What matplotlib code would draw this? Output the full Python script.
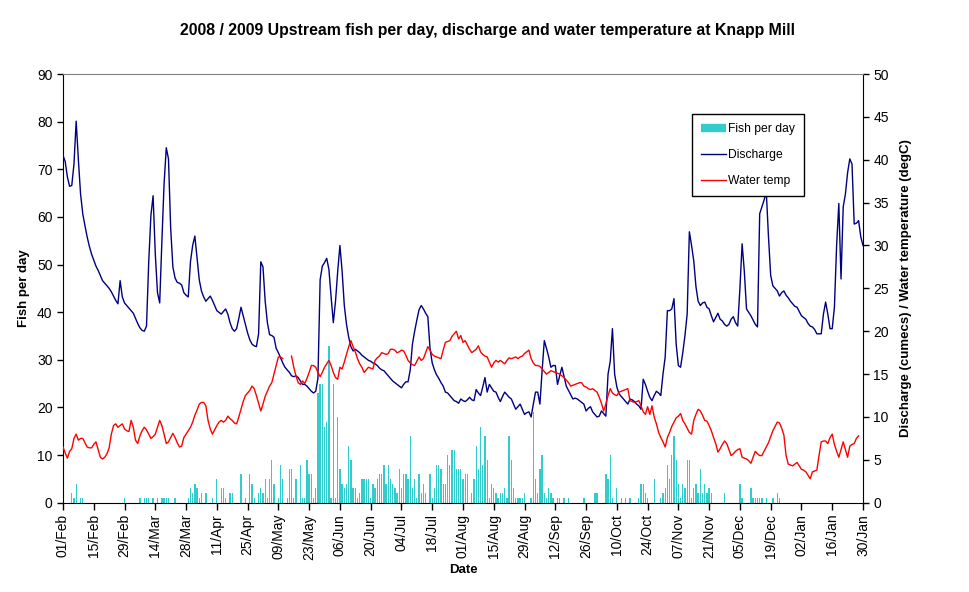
import numpy as np
import matplotlib
matplotlib.use("Agg")
import matplotlib.pyplot as plt
from matplotlib.lines import Line2D

plt.rcParams['font.family'] = ['Liberation Sans', 'DejaVu Sans']

# Daily discharge (cumecs), 01/Feb/2008 .. 30/Jan/2009
discharge = [
    40.5, 39.8, 38.0, 36.9, 37.0, 39.5, 44.5, 40.0, 36.0, 33.7,
    32.3, 31.0, 29.9, 29.0, 28.3, 27.6, 27.1, 26.5, 25.9, 25.6,
    25.3, 25.0, 24.6, 24.1, 23.6, 23.2, 25.9, 24.0, 23.3, 23.0,
    22.7, 22.4, 22.1, 21.5, 20.9, 20.4, 20.1, 20.0, 20.6, 28.0,
    33.5, 35.8, 29.0, 24.5, 23.3, 30.5, 37.2, 41.4, 40.1, 32.0,
    27.5, 26.2, 25.7, 25.6, 25.4, 24.5, 24.2, 24.0, 28.1, 30.0,
    31.1, 28.5, 26.0, 24.7, 24.0, 23.5, 23.8, 24.1, 23.6, 23.0,
    22.4, 22.2, 22.0, 22.3, 22.6, 22.0, 21.0, 20.3, 20.0, 20.3,
    21.5, 22.8, 21.8, 20.8, 19.8, 19.0, 18.5, 18.3, 18.2, 19.7,
    28.1, 27.5, 23.5, 21.0, 19.6, 19.5, 19.3, 18.0, 17.5, 16.9,
    16.3, 15.8, 15.5, 15.2, 14.8, 14.7, 14.8, 14.6, 14.2, 13.8,
    13.8, 13.6, 13.3, 13.0, 12.8, 13.0, 14.5, 26.0, 27.6, 28.0,
    28.5, 27.2, 24.0, 21.0, 23.5, 27.0, 30.0, 27.0, 23.0, 20.8,
    19.3, 18.2, 17.7, 17.9, 17.7, 17.5, 17.2, 17.0, 16.8, 16.6,
    16.5, 16.3, 16.2, 16.0, 15.7, 15.5, 15.4, 15.1, 14.8, 14.5,
    14.2, 14.0, 13.8, 13.6, 13.4, 13.8, 14.1, 14.1, 15.5, 18.5,
    20.0, 21.3, 22.5, 23.0, 22.6, 22.1, 21.7, 18.0, 16.3, 15.5,
    14.9, 14.5, 14.0, 13.6, 12.9, 12.8, 12.5, 12.2, 11.9, 11.8,
    11.6, 12.1, 11.9, 11.8, 12.0, 12.3, 12.0, 11.9, 13.2, 12.8,
    12.5, 13.5, 14.6, 12.9, 13.8, 13.4, 13.0, 12.9, 12.3, 11.8,
    12.4, 12.9, 12.6, 12.3, 12.1, 11.5, 10.9, 11.2, 11.5, 10.9,
    10.3, 10.5, 10.6, 10.0, 11.5, 12.9, 12.9, 11.5, 15.4, 18.9,
    18.0, 17.0, 15.8, 16.0, 16.0, 13.8, 14.8, 15.8, 14.7, 13.6,
    13.1, 12.6, 12.1, 12.2, 12.1, 11.9, 11.7, 11.5, 10.7, 11.0,
    11.2, 10.6, 10.3, 10.0, 10.1, 10.7, 10.4, 10.1, 15.0, 16.5,
    20.3, 15.0, 13.5, 12.7, 12.4, 12.1, 11.8, 11.5, 12.1, 12.0,
    11.8, 11.5, 11.3, 10.9, 14.4, 13.8, 13.0, 12.3, 11.9, 12.5,
    13.0, 12.8, 12.5, 15.0, 17.0, 22.4, 22.4, 22.6, 23.8, 18.5,
    16.0, 15.8, 17.5, 19.5, 22.0, 31.6, 30.0, 28.2, 25.2, 23.5,
    23.0, 23.3, 23.4, 22.8, 22.6, 21.8, 21.1, 21.6, 22.1, 21.4,
    21.2, 20.8, 20.6, 20.8, 21.4, 21.7, 21.0, 20.6, 25.0, 30.2,
    27.0, 22.6, 22.2, 21.8, 21.3, 20.8, 20.5, 33.7, 34.5, 35.3,
    36.3, 31.0, 26.5, 25.3, 25.0, 24.7, 24.1, 24.5, 24.7, 24.2,
    23.9, 23.5, 23.2, 22.9, 22.8, 22.3, 21.8, 21.6, 21.4, 20.9,
    20.6, 20.5, 20.2, 19.7, 19.7, 19.7, 22.0, 23.4, 22.0, 20.3,
    20.3, 22.8, 30.0, 34.9, 26.1, 34.5, 36.0, 38.5, 40.1, 39.5,
    32.5, 32.6, 32.9, 31.0, 30.0,
]

nan = float('nan')
# Daily water temperature (degC); gaps where no reading
water_temp = [
    6.5, 5.8, 5.2, 6.0, 6.3, 7.5, 8.0, 7.3, 7.5, 7.5,
    7.0, 6.5, 6.4, 6.4, 6.8, 7.1, 6.2, 5.3, 5.1, 5.3,
    5.7, 6.4, 8.0, 9.0, 9.2, 8.8, 9.0, 9.2, 8.6, 8.4,
    8.3, 9.6, 8.8, 7.3, 6.9, 7.8, 8.4, 8.8, 8.5, 8.0,
    7.5, 7.7, 8.0, 8.8, 9.6, 9.0, 8.0, 6.9, 7.1, 7.6,
    8.1, 7.6, 7.0, 6.5, 6.6, 7.6, 8.0, 8.4, 8.8, 9.4,
    10.2, 10.8, 11.5, 11.7, 11.7, 11.3, 9.6, 8.6, 8.0, 8.5,
    9.0, 9.4, 9.6, 9.4, 9.6, 10.1, 9.8, 9.6, 9.3, 9.2,
    10.0, 10.9, 11.8, 12.5, 12.8, 13.1, 13.6, 13.3, 12.5, 11.6,
    10.7, 11.5, 12.4, 13.0, 13.6, 14.0, 15.0, 16.0, 17.0, 17.0,
    16.8, nan, nan, nan, 17.1, 15.8, 14.8, 14.0, 13.8, 14.2,
    13.9, 14.5, 15.2, 16.0, 16.0, 15.8, 15.2, 14.7, 15.2, 15.8,
    16.2, 16.6, 16.0, 15.2, 14.6, 14.4, 15.8, 15.6, 16.4, 17.3,
    18.2, 18.9, 18.2, 17.6, 16.8, 16.2, 15.8, 15.2, 15.5, 15.8,
    15.7, 15.6, 16.6, 16.9, 17.1, 17.5, 17.4, 17.3, 17.4, 17.9,
    17.9, 17.8, 17.5, 17.6, 17.8, 17.7, 17.2, 16.6, 16.3, 16.1,
    16.0, 16.5, 17.0, 16.6, 16.8, 17.5, 18.2, 17.8, 17.3, 17.1,
    17.0, 16.9, 16.8, 17.8, 18.7, 18.8, 18.9, 19.4, 19.7, 20.0,
    19.1, 19.5, 18.7, 18.9, 18.4, 17.9, 17.5, 17.7, 17.9, 18.3,
    17.6, 17.3, 17.1, 17.0, 16.4, 15.8, 16.3, 16.6, 16.4, 16.6,
    16.4, 16.2, 16.6, 16.9, 16.8, 16.9, 17.0, 16.8, 17.0, 17.1,
    17.4, 17.6, 17.8, 16.8, 16.3, 16.0, 16.0, 15.9, 15.6, 15.3,
    15.0, 15.2, 15.4, 15.3, 15.2, 15.1, 15.0, 14.8, 14.6, 14.3,
    14.0, 13.6, 13.7, 13.8, 13.9, 14.0, 14.0, 13.6, 13.5, 13.3,
    13.2, 13.3, 13.1, 12.9, 12.3, 11.6, 10.7, 11.5, 12.5, 13.3,
    12.8, 12.6, 12.5, 12.9, 13.0, 13.1, 13.2, 13.3, 11.9, 11.8,
    11.7, 11.8, 11.9, 11.3, 10.6, 10.3, 11.2, 10.3, 11.3, 10.0,
    9.2, 8.2, 7.6, 7.1, 6.5, 7.6, 8.2, 8.9, 9.4, 9.9,
    10.1, 10.4, 9.6, 9.2, 8.7, 8.2, 8.0, 9.6, 10.3, 10.9,
    10.7, 10.2, 9.6, 9.5, 9.0, 8.4, 7.6, 6.9, 5.9, 6.3,
    6.8, 7.2, 6.9, 6.2, 5.5, 5.7, 6.0, 6.2, 6.3, 5.3,
    5.2, 5.1, 4.9, 4.6, 5.3, 6.0, 5.7, 5.5, 5.5, 6.0,
    6.5, 7.0, 7.7, 8.4, 8.9, 9.4, 9.3, 8.7, 7.9, 5.5,
    4.5, 4.4, 4.3, 4.5, 4.7, 4.3, 3.9, 3.8, 3.6, 3.2,
    2.8, 3.6, 3.7, 3.8, 5.5, 7.1, 7.2, 7.2, 6.9, 7.6,
    8.0, 6.8, 6.0, 5.3, 6.2, 7.1, 6.2, 5.3, 6.6, 6.8,
    6.9, 7.5, 7.8, nan, nan,
]

# Fish counted per day (days since 01/Feb with at least one fish)
fish_days = [
    4, 5, 6, 8, 9, 28, 35, 37, 38, 39, 41, 43, 45, 46, 47, 48, 51,
    57, 58, 59, 60, 61, 62, 63, 65, 68, 70, 72, 73, 74, 76, 77, 81, 83,
    85, 86, 87, 89, 90, 91, 92, 93, 94, 95, 96, 98, 99, 100, 102, 103,
    104, 105, 106, 108, 109, 110, 111, 112, 113, 114, 115, 116, 117, 118,
    119, 120, 121, 122, 123, 124, 125, 126, 127, 128, 129, 130, 131, 132,
    133, 134, 135, 136, 137, 138, 139, 140, 141, 142, 143, 144, 145, 146,
    147, 148, 149, 150, 151, 152, 153, 154, 155, 156, 157, 158, 159, 160,
    161, 162, 163, 164, 165, 167, 168, 169, 170, 171, 172, 173, 174, 175,
    176, 177, 178, 179, 180, 181, 182, 183, 184, 186, 187, 188, 189, 190,
    191, 192, 193, 194, 195, 196, 197, 198, 199, 200, 201, 202, 203, 204,
    205, 206, 207, 208, 209, 210, 213, 214, 215, 216, 217, 218, 219, 220,
    221, 222, 223, 225, 226, 228, 230, 237, 242, 243, 247, 248, 249, 250,
    252, 254, 256, 258, 262, 263, 264, 265, 266, 269, 272, 273, 274, 275,
    276, 277, 278, 279, 280, 281, 282, 283, 284, 285, 286, 287, 288, 289,
    290, 291, 292, 293, 294, 295, 301, 308, 309, 313, 314, 315, 316, 317,
    318, 320, 323, 325, 326,
]
fish_counts = [
    2, 1, 4, 1, 1, 1, 1, 1, 1, 1, 1, 1, 1, 1, 1, 1, 1,
    1, 3, 2, 4, 3, 1, 2, 2, 1, 5, 3, 3, 1, 2, 2, 6, 1,
    6, 4, 1, 2, 3, 2, 5, 1, 5, 9, 4, 1, 8, 5, 1, 7,
    7, 1, 5, 8, 1, 1, 9, 6, 6, 1, 3, 23, 25, 25,
    16, 17, 33, 1, 25, 1, 18, 7, 4, 3, 4, 12, 9, 3,
    3, 1, 2, 5, 5, 5, 5, 1, 4, 3, 5, 6, 6, 8,
    4, 8, 5, 4, 3, 2, 7, 3, 6, 6, 5, 14, 3, 5,
    1, 6, 2, 4, 2, 6, 1, 3, 8, 8, 7, 4, 4, 10,
    8, 11, 11, 7, 7, 7, 5, 6, 6, 2, 5, 12, 7, 16,
    8, 14, 9, 1, 4, 3, 2, 1, 2, 2, 3, 1, 14, 9,
    3, 1, 1, 1, 1, 2, 1, 19, 5, 2, 7, 10, 2, 1,
    3, 2, 1, 1, 1, 1, 1, 1, 2, 2, 6, 5, 10, 1,
    3, 1, 1, 1, 1, 4, 4, 2, 1, 5, 1, 2, 3, 8,
    5, 10, 14, 9, 4, 1, 4, 3, 9, 9, 1, 3, 4, 2,
    7, 2, 4, 2, 3, 2, 2, 4, 1, 3, 1, 1, 1, 1,
    1, 1, 1, 2, 1,
]

tick_labels = [
    "01/Feb", "15/Feb", "29/Feb", "14/Mar", "28/Mar", "11/Apr", "25/Apr",
    "09/May", "23/May", "06/Jun", "20/Jun", "04/Jul", "18/Jul", "01/Aug",
    "15/Aug", "29/Aug", "12/Sep", "26/Sep", "10/Oct", "24/Oct", "07/Nov",
    "21/Nov", "05/Dec", "19/Dec", "02/Jan", "16/Jan", "30/Jan",
]

days = np.arange(len(discharge))
fish = np.zeros(len(discharge))
fish[fish_days] = fish_counts

fig = plt.figure(figsize=(9.69, 5.92), dpi=100)
ax = fig.add_axes([0.065, 0.1508, 0.8256, 0.7242])
ax2 = ax.twinx()

# thin cyan columns, one per day
ax.bar(days, fish, width=0.6, color='#33CCCC', linewidth=0,
       antialiased=False, zorder=1)
ax2.plot(days, discharge, color='#000080', lw=1.0)
ax2.plot(days, water_temp, color='#FF0000', lw=1.0)

ax.set_xlim(0, 364)
ax.set_ylim(0, 90)
ax2.set_ylim(0, 50)
ax.set_yticks(np.arange(0, 91, 10))
ax2.set_yticks(np.arange(0, 51, 5))
ax.set_xticks(np.arange(0, 365, 14))
ax.set_xticklabels(tick_labels, rotation=90)

for a in (ax, ax2):
    a.tick_params(direction='out', length=4, width=1, labelsize=10)
ax.tick_params(axis='x', length=5, pad=3)

ax.spines['top'].set_visible(False)
ax.spines['right'].set_visible(False)
ax2.spines['left'].set_visible(False)
ax2.spines['bottom'].set_visible(False)
ax2.spines['top'].set_color('#808080')

fig.text(0.503, 0.948, "2008 / 2009 Upstream fish per day, discharge and water temperature at Knapp Mill",
         ha='center', va='center', fontsize=11.4, fontweight='bold')
ax.set_ylabel("Fish per day", fontsize=9.5, fontweight='bold', labelpad=5)
ax2.set_ylabel("Discharge (cumecs) / Water temperature (degC)", fontsize=9.5,
               fontweight='bold', labelpad=8)
ax.set_xlabel("Date", fontsize=9.5, fontweight='bold', labelpad=3)

handles = [
    Line2D([], [], color='#33CCCC', lw=6, solid_capstyle='butt'),
    Line2D([], [], color='#000080', lw=1),
    Line2D([], [], color='#FF0000', lw=1),
]
leg = ax2.legend(handles, ["Fish per day", "Discharge", "Water temp"],
                 loc='upper left', bbox_to_anchor=(0.786, 0.906), fontsize=8.7,
                 fancybox=False, edgecolor='black', framealpha=1,
                 handlelength=2.1, handletextpad=0.15, labelspacing=1.15,
                 borderpad=0.75, borderaxespad=0)
leg.get_frame().set_linewidth(1.0)

fig.savefig("out.png", dpi=100)
